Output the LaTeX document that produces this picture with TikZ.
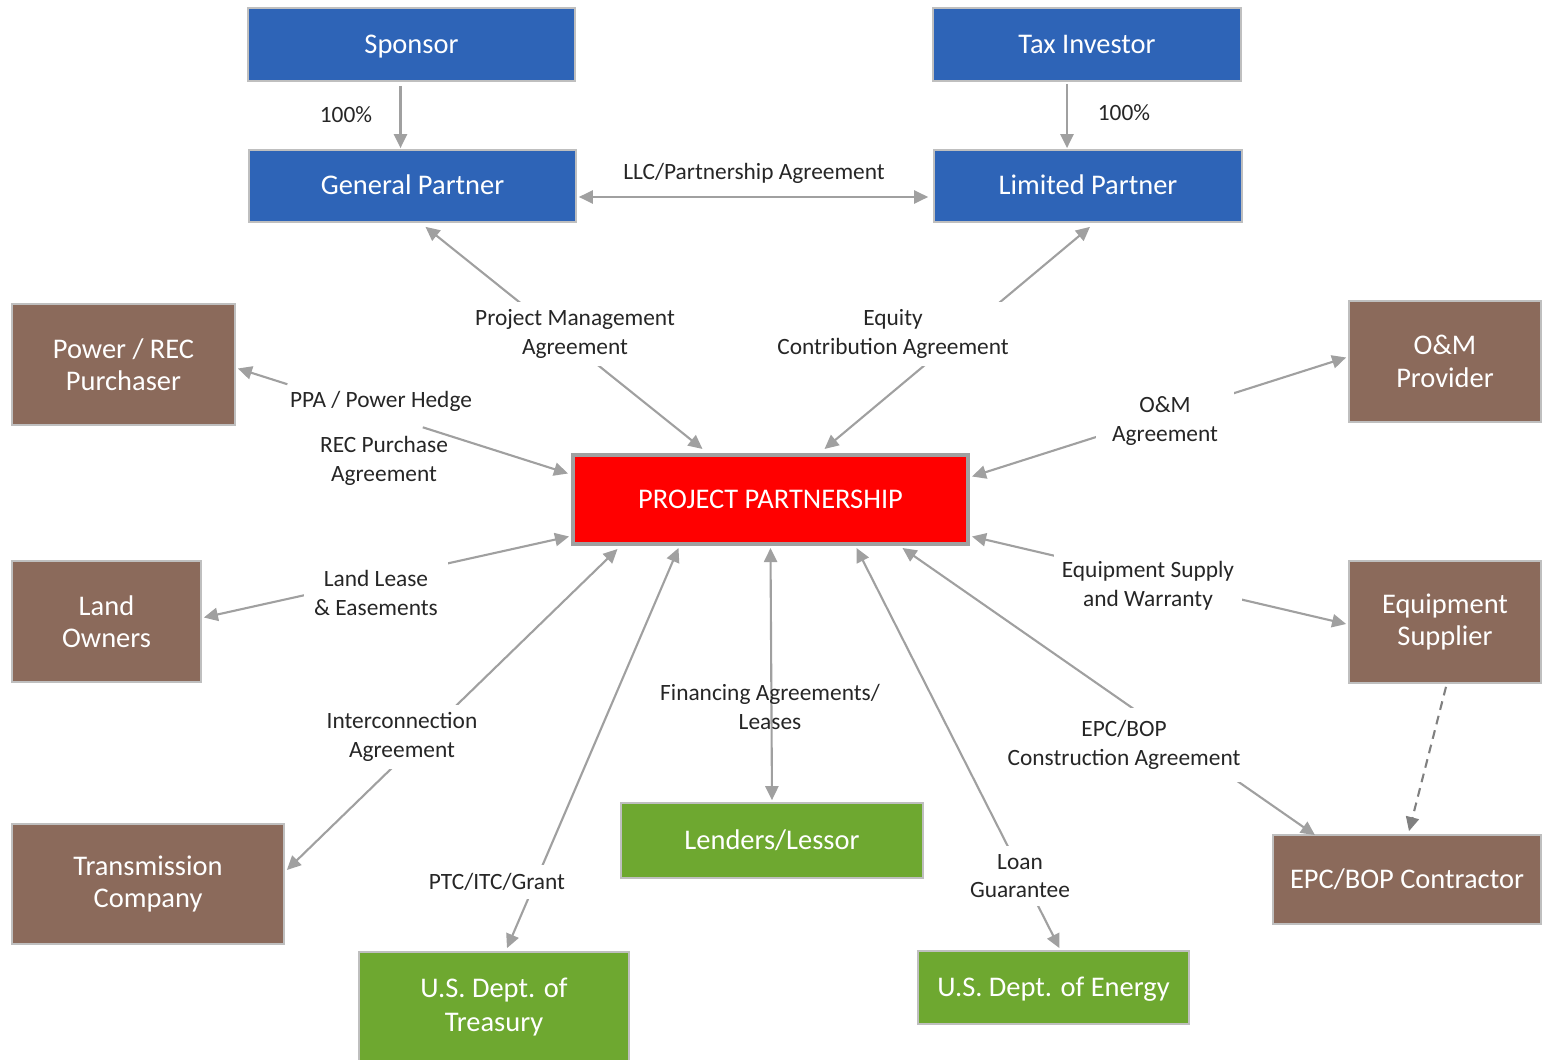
\documentclass[tikz,border=0pt]{standalone}
\usepackage{fontspec}
\setmainfont{Carlito}
\usetikzlibrary{arrows.meta,positioning,calc}
\definecolor{partnerblue}{HTML}{2E64B7}
\definecolor{partybrown}{HTML}{8B6A5B}
\definecolor{govgreen}{HTML}{6EA830}
\definecolor{linkgray}{HTML}{A0A0A0}
\definecolor{rimgray}{HTML}{BFBFBF}

\tikzset{
  entity/.style={draw=rimgray, line width=1pt, text=white, align=center, inner sep=0pt,
    font=\fontsize{16.2}{18.4}\selectfont},
  oneline/.style={text height=13.6pt, text depth=3.4pt},
  bluebox/.style={entity, oneline, fill=partnerblue},
  brownbox/.style={entity, fill=partybrown},
  greenbox/.style={entity, fill=govgreen},
  deal/.style={font=\fontsize{13.3}{16.4}\selectfont, text=black!85, align=center, fill=white, inner sep=4.5pt},
  link/.style={draw=linkgray, line width=1.2pt, -{Triangle[length=8pt,width=7.5pt]}},
  twoway/.style={link, {Triangle[length=8pt,width=7.5pt]}-{Triangle[length=8pt,width=7.5pt]}},
}

\begin{document}
\begin{tikzpicture}[x=0.02cm, y=-0.02cm]
    \useasboundingbox (0,0) rectangle (1542,1060);

    % partners
    \node[bluebox, minimum width=6.54cm, minimum height=1.46cm] (sponsor) at (411.5,44.5) {Sponsor};
    \node[bluebox, minimum width=6.16cm, minimum height=1.46cm] (taxinv) at (1087,44.5) {Tax Investor};
    \node[bluebox, minimum width=6.54cm, minimum height=1.44cm] (gp) at (412.5,186) {General Partner};
    \node[bluebox, minimum width=6.16cm, minimum height=1.44cm] (lp) at (1088,186) {Limited Partner};

    % project company
    \node[entity, oneline, fill=red, draw=linkgray, line width=2.3pt, minimum width=7.9cm, minimum height=1.78cm]
        (pp) at (770.5,499.5) {PROJECT PARTNERSHIP};

    % counterparties
    \node[brownbox, minimum width=4.46cm, minimum height=2.42cm] (buyer) at (123.5,364.5) {Power / REC\\Purchaser};
    \node[brownbox, minimum width=3.84cm, minimum height=2.42cm] (omprov) at (1445,361.5) {O\&M\\Provider};
    \node[brownbox, minimum width=3.78cm, minimum height=2.42cm] (landown) at (106.5,621.5) {Land\\Owners};
    \node[brownbox, minimum width=3.84cm, minimum height=2.44cm] (eqsup) at (1445,622) {Equipment\\Supplier};
    \node[brownbox, minimum width=5.44cm, minimum height=2.40cm] (transco) at (148,884) {Transmission\\Company};
    \node[brownbox, oneline, minimum width=5.36cm, minimum height=1.78cm] (epc) at (1407,879.5) {EPC/BOP Contractor};

    % lenders and government
    \node[greenbox, oneline, minimum width=6.04cm, minimum height=1.50cm] (lenders) at (772,840.5) {Lenders/Lessor};
    \node[greenbox, minimum width=5.40cm, minimum height=2.20cm, font=\fontsize{16.2}{19.8}\selectfont]
        (treasury) at (494,1007) {U.S. Dept. of\\Treasury};
    \node[greenbox, oneline, minimum width=5.42cm, minimum height=1.46cm] (doe) at (1053.5,987.5) {U.S. Dept. of Energy};

    % ownership
    \draw[link] ($(sponsor.south)+(-11,4)$) -- ($(gp.north)+(-12,-1)$);
    \draw[link] ($(taxinv.south)+(-20,2)$) -- ($(lp.north)+(-21,-1)$);
    \draw[twoway] ($(gp.east)+(2,11)$) -- ($(lp.west)+(-5,11)$);

    % contracts of the partnership
    \draw[twoway] ($(pp.north)+(-68,-4)$) -- ($(gp.south)+(13,4)$);
    \draw[twoway] ($(pp.north)+(54,-4)$) -- ($(lp.south)+(2,4)$);
    \draw[twoway] ($(pp.east)+(2,-23)$) -- ($(omprov.west)+(-2,-4)$);
    \draw[twoway] ($(pp.east)+(2,37)$) -- ($(eqsup.west)+(-2,2)$);
    \draw[twoway] ($(pp.south)+(132,2)$) -- ($(epc.north)+(-92,1)$);
    \draw[twoway] ($(pp.south)+(86,2)$) -- ($(doe.north)+(6,-2)$);
    \draw[twoway] ($(pp.south)+(0,2)$) -- ($(lenders.north)+(0,-2)$);
    \draw[twoway] ($(pp.south)+(-92,2)$) -- ($(treasury.north)+(13,-3)$);
    \draw[twoway] ($(pp.south)+(-153,3)$) -- ($(transco.east)+(2,-14)$);
    \draw[twoway] ($(pp.west)+(-2,37)$) -- ($(landown.east)+(2,-4)$);

    % offtake line is broken by its two labels
    \coordinate (ppaA) at ($(pp.west)+(-3,-26)$);
    \coordinate (ppaB) at ($(buyer.east)+(2,4)$);
    \draw[link] ($(ppaA)!0.44!(ppaB)$) -- (ppaA);
    \draw[link] ($(ppaA)!0.85!(ppaB)$) -- (ppaB);

    \draw[link, draw=black!50, dashed, dash pattern=on 5pt off 3.5pt]
        ($(eqsup.south)+(1,3)$) -- ($(epc.north)+(2,-3)$);

    % labels
    \node[deal] (own1) at (346,115) {100\%};
    \node[deal] (own2) at (1124,113) {100\%};
    \node[deal, fill=none] (llc) at (754,173) {LLC/Partnership Agreement};
    \node[deal] (pma) at (575,334) {Project Management\\Agreement};
    \node[deal] (eca) at (893,334) {Equity\\Contribution Agreement};
    \node[deal, fill=none] (ppa) at (381,401) {PPA / Power Hedge};
    \node[deal, fill=none] (rec) at (384,461) {REC Purchase\\Agreement};
    \node[deal, inner xsep=9pt] (oma) at (1165,421) {O\&M\\Agreement};
    \node[deal] (esw) at (1148,586) {Equipment Supply\\and Warranty};
    \node[deal, inner ysep=7pt] (epca) at (1124,745) {EPC/BOP\\Construction Agreement};
    \node[deal] (loan) at (1020,876) {Loan\\Guarantee};
    \node[deal, fill=none] (fin) at (770,707) {Financing Agreements/\\Leases};
    \node[deal] (ptc) at (497,882) {PTC/ITC/Grant};
    \node[deal] (ica) at (402,737) {Interconnection\\Agreement};
    \node[deal, inner xsep=6pt] (lease) at (376,593) {Land Lease\\\& Easements};
\end{tikzpicture}
\end{document}
